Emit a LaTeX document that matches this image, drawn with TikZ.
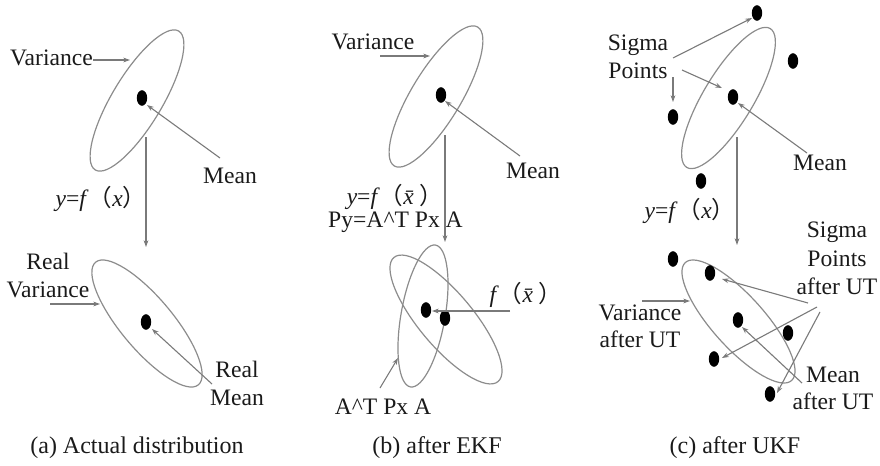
\documentclass[tikz,border=0pt]{standalone}
\usepackage{fontspec}
\setmainfont{Liberation Serif}
\newfontfamily\cjkfont{Noto Sans CJK SC}
\usetikzlibrary{arrows.meta,shapes.geometric}
\definecolor{ecol}{HTML}{8C8C8C}
\definecolor{acol}{HTML}{7A7A7A}
\definecolor{tcol}{HTML}{1A1A1A}
\newcommand{\lpar}{{\cjkfont （}}
\newcommand{\rpar}{{\cjkfont ）}}
\begin{document}
\begin{tikzpicture}[x=0.5pt,y=-0.5pt,
  lbl/.style={font=\fontsize{11.8}{13.8}\selectfont, text=tcol, inner sep=0pt, align=center},
  captxt/.style={font=\fontsize{12}{14}\selectfont, text=tcol, inner sep=0pt},
  ell/.style={draw=ecol, line width=0.6pt, shape=ellipse, inner sep=0pt},
  arr/.style={draw=acol, line width=0.55pt, -{Stealth[length=3.4pt,width=2.4pt]}},
  dotn/.style={shape=ellipse, fill=black, inner sep=0pt, minimum width=5.2pt, minimum height=7.8pt}]
\useasboundingbox (0,0) rectangle (880,466);

% ---------------- (a) ----------------
\node[ell, rotate=59, minimum width=81pt, minimum height=25pt] (ea1) at (137,100.5) {};
\node[ell, rotate=-50, minimum width=80pt, minimum height=26pt] (ea2) at (147,323.5) {};
\node[dotn] (da1) at (142,98) {};
\node[dotn] (da2) at (146,322) {};
\node[lbl] (va1) at (51.5,58) {Variance};
\coordinate (va1s) at (93,60); \coordinate (va1t) at (130,60);
\draw[arr] (va1s) -- (va1t);
\node[lbl] (ma1) at (230,176) {Mean};
\coordinate (ma1s) at (220,158); \coordinate (ma1t) at (147,105);
\draw[arr] (ma1s) -- (ma1t);
\coordinate (fa1) at (146,137); \coordinate (fa2) at (146,247);
\draw[arr] (fa1) -- (fa2);
\node[lbl] (fxa) at (101,199) {\textit{y}=\textit{f}\lpar\textit{x}\rpar};
\node[lbl] (rva) at (48,275.5) {Real\\Variance};
\coordinate (rvas) at (50,304); \coordinate (rvat) at (100,304);
\draw[arr] (rvas) -- (rvat);
\node[lbl] (rma) at (237,383.5) {Real\\Mean};
\coordinate (rmas) at (212,384); \coordinate (rmat) at (152,329);
\draw[arr] (rmas) -- (rmat);
\node[captxt] (capa) at (137,448) {(a) Actual distribution};

% ---------------- (b) ----------------
\node[ell, rotate=59, minimum width=81pt, minimum height=25pt] (eb1) at (436,96.5) {};
\node[ell, rotate=80, minimum width=72pt, minimum height=22pt] (eb2) at (423,316) {};
\node[ell, rotate=-50, minimum width=81pt, minimum height=27pt] (eb3) at (446,319.5) {};
\node[dotn] (db1) at (441,95) {};
\node[dotn] (db2) at (426,310) {};
\node[dotn] (db3) at (445,318) {};
\node[lbl] (vb1) at (373,42) {Variance};
\coordinate (vb1s) at (380,56); \coordinate (vb1t) at (430,56);
\draw[arr] (vb1s) -- (vb1t);
\node[lbl] (mb1) at (533,171) {Mean};
\coordinate (mb1s) at (520,156); \coordinate (mb1t) at (445,101);
\draw[arr] (mb1s) -- (mb1t);
\node[lbl] (fxb) at (395,197) {\textit{y}=\textit{f}\lpar\textit{\=x}\rpar};
\node[lbl] (pyb) at (395.5,222) {Py=A\^{}T Px A};
\coordinate (fb1) at (445,135); \coordinate (fb2) at (445,242);
\draw[arr] (fb1) -- (fb2);
\node[lbl] (fxb2) at (526,295) {\textit{f}\lpar\textit{\=x}\rpar};
\coordinate (fxbs) at (510,311); \coordinate (fxbt) at (432,311);
\draw[arr] (fxbs) -- (fxbt);
\node[lbl] (apb) at (383,407) {A\^{}T Px A};
\coordinate (apbs) at (380,388); \coordinate (apbt) at (398,358);
\draw[arr] (apbs) -- (apbt);
\node[captxt] (capb) at (437,448) {(b) after EKF};

% ---------------- (c) ----------------
\node[ell, rotate=59, minimum width=81pt, minimum height=25pt] (ec1) at (728.5,98) {};
\node[ell, rotate=-48, minimum width=79.4pt, minimum height=26pt] (ec2) at (738.5,321.5) {};
\node[dotn] (dc1) at (757,13) {};
\node[dotn] (dc2) at (793,61) {};
\node[dotn] (dc3) at (733,97) {};
\node[dotn] (dc4) at (673,117) {};
\node[dotn] (dc5) at (701,181) {};
\node[lbl] (spc) at (638,57) {Sigma\\Points};
\coordinate (sp1s) at (673,58); \coordinate (sp1t) at (752,18);
\coordinate (sp2s) at (682,70); \coordinate (sp2t) at (722,88);
\coordinate (sp3s) at (673,77); \coordinate (sp3t) at (673,102);
\draw[arr] (sp1s) -- (sp1t);
\draw[arr] (sp2s) -- (sp2t);
\draw[arr] (sp3s) -- (sp3t);
\node[lbl] (mc1) at (820,163) {Mean};
\coordinate (mc1s) at (807,153); \coordinate (mc1t) at (738,103);
\draw[arr] (mc1s) -- (mc1t);
\coordinate (fc1) at (737,137); \coordinate (fc2) at (737,245);
\draw[arr] (fc1) -- (fc2);
\node[lbl] (fxc) at (690,211) {\textit{y}=\textit{f}\lpar\textit{x}\rpar};
\node[dotn] (dc6) at (673,259) {};
\node[dotn] (dc7) at (710,273) {};
\node[dotn] (dc8) at (738,320) {};
\node[dotn] (dc9) at (788,333) {};
\node[dotn] (dc10) at (714,359) {};
\node[dotn] (dc11) at (770,394) {};
\node[lbl, font=\fontsize{11.8}{14.2}\selectfont] (spu) at (837,258.5) {Sigma\\Points\\after UT};
\coordinate (su1s) at (808,303); \coordinate (su1t) at (722,279);
\coordinate (su2s) at (817,307); \coordinate (su2t) at (722,358);
\coordinate (su3s) at (820,312); \coordinate (su3t) at (777,393);
\draw[arr] (su1s) -- (su1t);
\draw[arr] (su2s) -- (su2t);
\draw[arr] (su3s) -- (su3t);
\node[lbl] (vcu) at (640,326.5) {Variance\\after UT};
\coordinate (vcus) at (642,301); \coordinate (vcut) at (690,301);
\draw[arr] (vcus) -- (vcut);
\node[lbl] (mcu) at (833,388.5) {Mean\\after UT};
\coordinate (mcus) at (802,383); \coordinate (mcut) at (742,327);
\draw[arr] (mcus) -- (mcut);
\node[captxt] (capc) at (735,448) {(c) after UKF};
\end{tikzpicture}
\end{document}
